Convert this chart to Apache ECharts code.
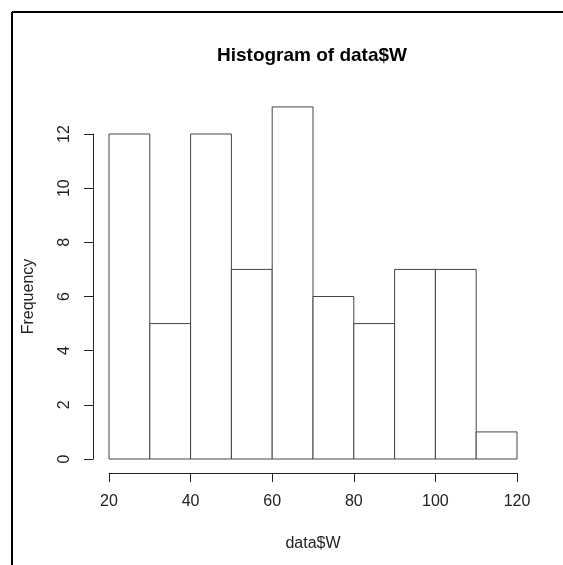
<!DOCTYPE html>
<html>
<head>
<meta charset="utf-8">
<script src="https://cdn.jsdelivr.net/npm/echarts@6/dist/echarts.min.js"></script>
<style>
html,body{margin:0;padding:0;background:#fff;}
#chart{width:563px;height:565px;}
</style>
</head>
<body>
<div id="chart"></div>
<script>
var binStarts = [20, 30, 40, 50, 60, 70, 80, 90, 100, 110];
var binEnds   = [30, 40, 50, 60, 70, 80, 90, 100, 110, 120];
var counts    = [12, 5, 12, 7, 13, 6, 5, 7, 7, 1];
var xTicks    = [20, 40, 60, 80, 100, 120];
var yTicks    = [0, 2, 4, 6, 8, 10, 12];

var data = binStarts.map(function (s, i) { return [s, binEnds[i], counts[i]]; });
var font = 'Liberation Sans, Arial, sans-serif';

var chart = echarts.init(document.getElementById('chart'), null, {renderer: 'canvas'});
chart.setOption({
  animation: false,
  backgroundColor: '#fff',
  title: {
    text: 'Histogram of data$W',
    left: 307, top: 41, textAlign: 'center',
    textStyle: {fontFamily: font, fontSize: 19, fontWeight: 'bold', color: '#000'}
  },
  grid: {left: 109, right: 46, top: 134, bottom: 106},
  xAxis: {
    type: 'value', min: 20, max: 120, interval: 20,
    offset: 14,
    name: 'data$W', nameLocation: 'middle', nameGap: 63,
    nameTextStyle: {fontFamily: font, fontSize: 16, color: '#222'},
    axisLine: {show: true, onZero: false, lineStyle: {color: '#222', width: 1}},
    axisTick: {show: true, length: 9, lineStyle: {color: '#222'}},
    axisLabel: {fontFamily: font, fontSize: 16, color: '#222', margin: 21,
      formatter: function (v) { return xTicks.indexOf(v) >= 0 ? String(v) : ''; }},
    splitLine: {show: false}
  },
  yAxis: {
    type: 'value', min: 0, max: 12, interval: 2,
    offset: 16,
    name: 'Frequency', nameLocation: 'middle', nameGap: 56, nameRotate: 90,
    nameTextStyle: {fontFamily: font, fontSize: 16, color: '#222'},
    axisLine: {show: true, onZero: false, lineStyle: {color: '#222', width: 1}},
    axisTick: {show: true, length: 9, lineStyle: {color: '#222'}},
    axisLabel: {fontFamily: font, fontSize: 16, color: '#222', rotate: 90, margin: 28,
      verticalAlign: 'middle', align: 'center',
      formatter: function (v) { return yTicks.indexOf(v) >= 0 ? String(v) : ''; }},
    splitLine: {show: false}
  },
  series: [{
    type: 'custom',
    clip: false,
    data: data,
    encode: {x: [0, 1], y: 2},
    renderItem: function (params, api) {
      var p0 = api.coord([api.value(0), 0]);
      var p1 = api.coord([api.value(1), api.value(2)]);
      return {
        type: 'rect',
        shape: {x: p0[0], y: p1[1], width: p1[0] - p0[0], height: p0[1] - p1[1]},
        style: {fill: '#fff', stroke: '#444', lineWidth: 1}
      };
    }
  }],
  graphic: [
    {type: 'line', shape: {x1: 12, y1: 12, x2: 563, y2: 12}, style: {stroke: '#000', lineWidth: 2}},
    {type: 'line', shape: {x1: 12, y1: 12, x2: 12, y2: 565}, style: {stroke: '#000', lineWidth: 2}}
  ]
});
</script>
</body>
</html>
